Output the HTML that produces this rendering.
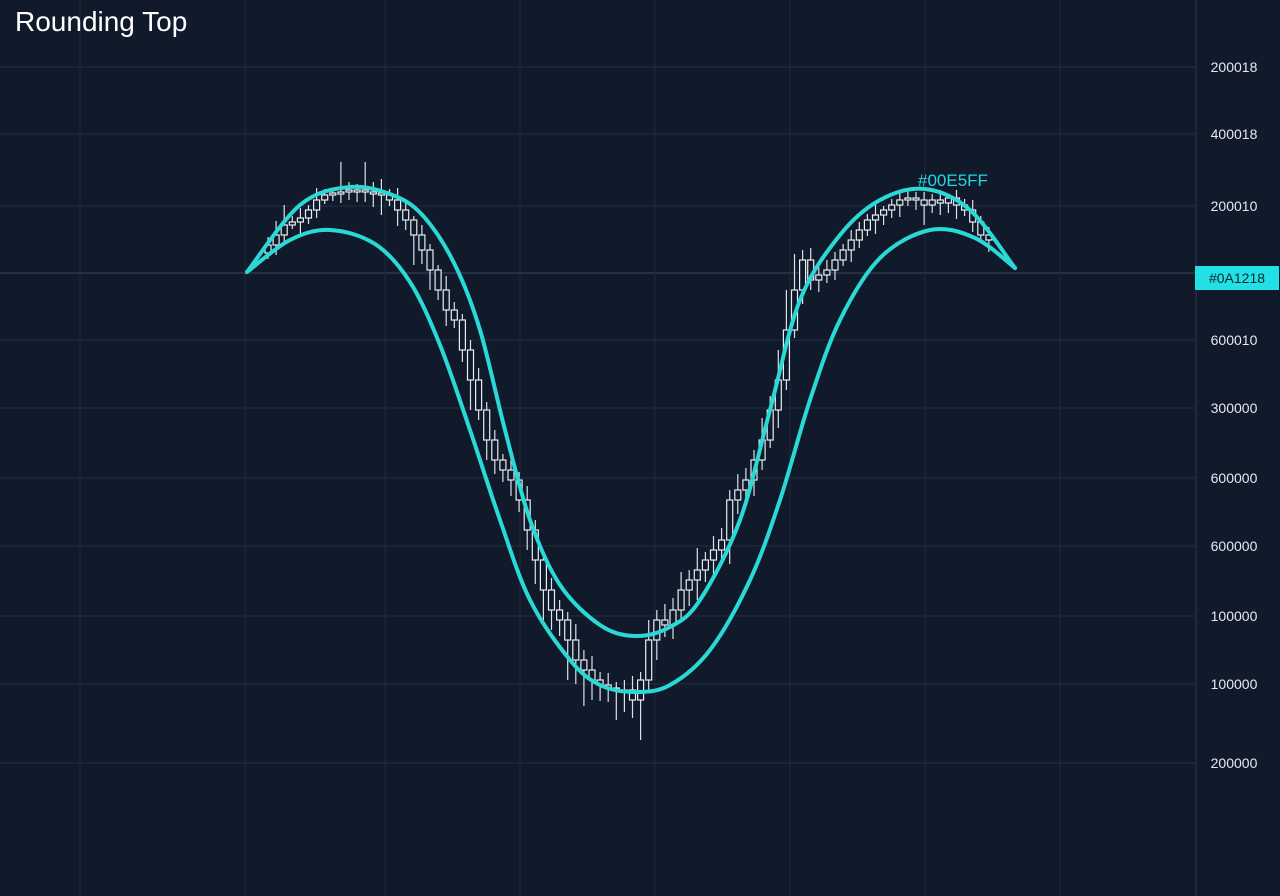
<!DOCTYPE html>
<html><head><meta charset="utf-8">
<style>
html,body{margin:0;padding:0;background:#111a2b;}
svg{display:block;font-family:"Liberation Sans",sans-serif;}
</style></head>
<body>
<svg id="chart" width="1280" height="896" viewBox="0 0 1280 896">
<rect x="0" y="0" width="1280" height="896" fill="#111a2b"/>
<g id="grid"></g>
<line x1="1196" y1="0" x2="1196" y2="896" stroke="#2a3548" stroke-width="1"/>
<g id="axis"></g>
<g id="candles"></g>
<g id="curves"></g>
<text x="15" y="31" fill="#ffffff" font-size="28">Rounding Top</text>
<text x="918" y="186" fill="#22d8e0" font-size="17">#00E5FF</text>
<rect x="1195" y="266" width="84" height="24" fill="#22e0e6"/>
<text x="1237" y="283" fill="#0d2630" font-size="14" text-anchor="middle">#0A1218</text>
</svg>
<script>
// price p maps to y = 900 - p
const tickValues=[833,766,694,560,492,422,354,284,216,137];
const tickLabels=["200018","400018","200010","600010","300000","600000","600000","100000","100000","200000"];
const vGridX=[80,245,385,520,655,790,925,1060];
const closes=[655,665,675,678,682,690,700,705,707,708,710,
710,708,707,705,700,690,680,665,650,630,
610,590,580,550,520,490,460,440,430,420,
400,370,340,310,290,280,260,240,230,220,
215,212,210,210,200,220,260,280,275,290,
310,320,330,340,350,360,400,410,420,440,
460,490,520,570,610,640,620,625,630,640,
650,660,670,680,685,690,695,700,702,700,
695,700,697,702,695,690,678,665,660];
const upWick=[8,14,20,6,10,5,12,6,4,30,8,6,28,10,14,6,12,8,4,10,6,5,14,8,6,10,12,8,10,6,10,8,14,10,6,12,10,8,16,10,14,8,12,6,10,14,8,20,10,16,12,18,10,22,8,14,12,10,16,12,10,22,14,30,40,36,10,12,8,10,8,6,10,8,6,12,4,6,8,10,6,8,6,10,4,8,6,10,6,8];
const dnWick=[6,10,8,4,12,6,8,4,6,10,8,12,10,14,20,6,16,10,30,14,20,10,16,8,12,30,10,20,14,12,16,12,20,24,30,20,16,40,24,36,20,16,14,30,22,18,40,10,20,12,14,10,16,20,12,18,10,24,14,12,16,10,8,18,10,8,14,10,12,8,10,6,12,8,6,14,10,8,12,6,10,20,8,12,10,14,6,10,8,12];
const curveAx=[247,300,350,395,425,455,480,505,530,560,600,635,670,700,740,770,800,840,880,925,970,1015];
const curveAv=[628,695,713,704,682,635,570,470,380,315,275,264,273,300,380,490,600,665,700,711,690,632];
const curveBx=[247,290,330,375,410,440,470,500,530,570,600,635,670,710,750,780,810,840,880,930,975,1015];
const curveBv=[628,660,670,656,618,555,470,380,300,240,215,208,215,250,320,400,500,580,642,670,662,632];

const NS="http://www.w3.org/2000/svg";
const yScale=p=>900-p;
const xScale=i=>268+i*8.1;
function mk(tag,attrs,parent){const e=document.createElementNS(NS,tag);for(const k in attrs)e.setAttribute(k,attrs[k]);parent.appendChild(e);return e;}
const grid=document.getElementById('grid'),axis=document.getElementById('axis'),cg=document.getElementById('candles'),cv=document.getElementById('curves');
tickValues.forEach((v,i)=>{
  const y=yScale(v);
  const l=mk('line',{x1:0,x2:1196,y1:y,y2:y,stroke:'#222d40','stroke-width':1},grid);
  
  
  const t=mk('text',{x:1234,y:y+5,fill:'#e6e9ee','font-size':14,'text-anchor':'middle'},axis);
  t.textContent=tickLabels[i];
  
  
});
const cur=mk('line',{x1:0,x2:1196,y1:273,y2:273,stroke:'#3a4658','stroke-width':1},grid);


vGridX.forEach(x=>{
  const l=mk('line',{x1:x,x2:x,y1:0,y2:896,stroke:'#1e2939','stroke-width':1},grid);
  
  
});
closes.forEach((c,i)=>{
  const o=i===0?c-8:closes[i-1];
  const x=xScale(i);
  const top=Math.max(o,c),bot=Math.min(o,c);
  const g=mk('g',{},cg);
  
  
  mk('line',{x1:x,x2:x,y1:yScale(top+upWick[i]),y2:yScale(bot-dnWick[i]),stroke:'#d8e2ea','stroke-width':1.2},g);
  const h=Math.max(2,top-bot);
  mk('rect',{x:x-3,y:yScale(top),width:6,height:h,fill:'#111a2b',stroke:'#e8eef2','stroke-width':1.2},g);
});
function pathFrom(xs,vs){
  const pts=xs.map((x,i)=>[x,yScale(vs[i])]);
  let d='M'+pts[0][0]+','+pts[0][1];
  for(let i=0;i<pts.length-1;i++){
    const p0=pts[Math.max(0,i-1)],p1=pts[i],p2=pts[i+1],p3=pts[Math.min(pts.length-1,i+2)];
    const c1=[p1[0]+(p2[0]-p0[0])/6,p1[1]+(p2[1]-p0[1])/6];
    const c2=[p2[0]-(p3[0]-p1[0])/6,p2[1]-(p3[1]-p1[1])/6];
    d+=' C'+c1[0]+','+c1[1]+' '+c2[0]+','+c2[1]+' '+p2[0]+','+p2[1];
  }
  return d;
}
const pa=mk('path',{d:pathFrom(curveAx,curveAv),fill:'none',stroke:'#2ad9d6','stroke-width':4,'stroke-linecap':'round'},cv);


const pb=mk('path',{d:pathFrom(curveBx,curveBv),fill:'none',stroke:'#2ad9d6','stroke-width':4,'stroke-linecap':'round'},cv);


</script>
</body></html>
